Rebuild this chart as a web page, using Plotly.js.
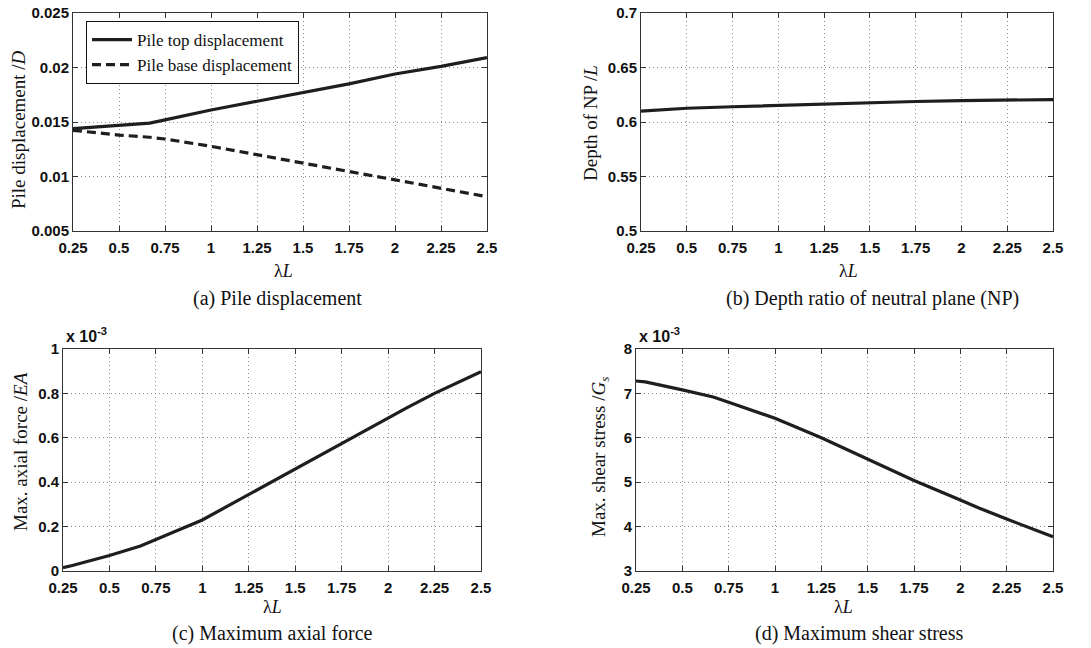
<!DOCTYPE html>
<html>
<head>
<meta charset="utf-8">
<script src="https://cdn.plot.ly/plotly-3.0.1.min.js"></script>
<style>html,body{margin:0;padding:0;background:#fff;}#chart{width:1091px;height:648px;}</style>
</head>
<body>
<div id="chart"></div>
<script>
// ---- data ----
const lambdaL_a = [0.25, 0.5, 0.667, 0.75, 1, 1.25, 1.5, 1.75, 2, 2.25, 2.5];
const pileTopDisp = [0.0144, 0.0147, 0.0149, 0.0152, 0.0161, 0.0169, 0.0177, 0.0185, 0.0194, 0.0201, 0.0209];
const pileBaseDisp = [0.01424, 0.0138, 0.0136, 0.01344, 0.01277, 0.0120, 0.01124, 0.01047, 0.00965, 0.00888, 0.00815];

const lambdaL_b = [0.25, 0.5, 0.75, 1, 1.25, 1.5, 1.75, 2, 2.25, 2.5];
const npDepth = [0.610, 0.6126, 0.614, 0.6153, 0.6166, 0.6178, 0.6188, 0.6196, 0.6202, 0.6206];

const lambdaL_c = [0.25, 0.3, 0.5, 0.667, 1, 1.25, 1.5, 1.75, 2, 2.1, 2.25, 2.5];
const axialForce_e3 = [0.015, 0.025, 0.07, 0.113, 0.23, 0.345, 0.459, 0.575, 0.69, 0.735, 0.80, 0.898];

const lambdaL_d = [0.25, 0.3, 0.5, 0.667, 0.75, 1, 1.25, 1.5, 1.75, 2, 2.1, 2.25, 2.5];
const shearStress_e3 = [7.28, 7.26, 7.08, 6.92, 6.80, 6.44, 6.0, 5.52, 5.04, 4.60, 4.42, 4.17, 3.77];

const xTicks = [0.25, 0.5, 0.75, 1, 1.25, 1.5, 1.75, 2, 2.25, 2.5];
const captions = ['(a) Pile displacement', '(b) Depth ratio of neutral plane (NP)', '(c) Maximum axial force', '(d) Maximum shear stress'];
const yTitles = ['Pile displacement /<i>D</i>', 'Depth of NP /<i>L</i>', 'Max. axial force /<i>EA</i>', 'Max. shear stress /<i>G<sub>s</sub></i>'];

// ---- styles ----
const W = 1091, H = 648;
const lineCol = '#1e1e1e';
const tickFont = {family: 'Liberation Sans, Arial, sans-serif', size: 15, color: '#111', weight: 'bold'};
const serif = 'Liberation Serif, Times New Roman, serif';

function px2x(p){return p / W;}
function px2y(p){return 1 - p / H;}

function xax(l, r, anchor){
  return {
    domain: [px2x(l), px2x(r)], anchor: anchor,
    range: [0.25, 2.5], tickvals: xTicks, ticktext: xTicks.map(String),
    showline: true, linecolor: '#333', linewidth: 1, mirror: 'ticks',
    ticks: 'inside', ticklen: 5, tickcolor: '#333', ticklabelstandoff: 3,
    showgrid: true, gridcolor: '#8a8a8a', griddash: '1px,3px', gridwidth: 1,
    zeroline: false, tickfont: tickFont, fixedrange: true
  };
}
function yax(t, b, anchor, range, dtick){
  return {
    domain: [px2y(b), px2y(t)], anchor: anchor,
    range: range, dtick: dtick, tick0: range[0],
    showline: true, linecolor: '#333', linewidth: 1, mirror: 'ticks',
    ticks: 'inside', ticklen: 5, tickcolor: '#333',
    showgrid: true, gridcolor: '#8a8a8a', griddash: '1px,3px', gridwidth: 1,
    zeroline: false, tickfont: tickFont, fixedrange: true
  };
}

const traces = [
  {x: lambdaL_a, y: pileTopDisp, xaxis: 'x', yaxis: 'y', mode: 'lines', name: 'Pile top displacement',
   line: {color: lineCol, width: 3.2}},
  {x: lambdaL_a, y: pileBaseDisp, xaxis: 'x', yaxis: 'y', mode: 'lines', name: 'Pile base displacement',
   line: {color: lineCol, width: 3.2, dash: '9px,5px'}},
  {x: lambdaL_b, y: npDepth, xaxis: 'x2', yaxis: 'y2', mode: 'lines', showlegend: false,
   line: {color: lineCol, width: 3.2}},
  {x: lambdaL_c, y: axialForce_e3, xaxis: 'x3', yaxis: 'y3', mode: 'lines', showlegend: false,
   line: {color: lineCol, width: 3.2}},
  {x: lambdaL_d, y: shearStress_e3, xaxis: 'x4', yaxis: 'y4', mode: 'lines', showlegend: false,
   line: {color: lineCol, width: 3.2}}
];

const ann = [];
function addText(text, xp, yp, size, opts){
  ann.push(Object.assign({text: text, xref: 'paper', yref: 'paper', x: px2x(xp), y: px2y(yp),
    showarrow: false, xanchor: 'center', yanchor: 'middle',
    font: {family: serif, size: size, color: '#111'}}, opts || {}));
}
// captions
addText(captions[0], 277, 298, 20);
addText(captions[1], 872, 298, 20);
addText(captions[2], 272, 633, 20);
addText(captions[3], 860, 633, 20);
// x titles
addText('λ<i>L</i>', 283, 271, 18);
addText('λ<i>L</i>', 848, 271, 18);
addText('λ<i>L</i>', 272, 607, 18);
addText('λ<i>L</i>', 843, 607, 18);
// y titles
addText(yTitles[0], 18, 130, 19, {textangle: -90});
addText(yTitles[1], 590, 123, 19, {textangle: -90});
addText(yTitles[2], 20, 452, 19, {textangle: -90});
addText(yTitles[3], 600, 457, 19, {textangle: -90});
// exponent labels
const expFont = {family: 'Liberation Sans, Arial, sans-serif', size: 16, color: '#111', weight: 'bold'};
ann.push({text: 'x 10<sup>-3</sup>', xref: 'paper', yref: 'paper', x: px2x(64), y: px2y(347),
  showarrow: false, xanchor: 'left', yanchor: 'bottom', font: expFont});
ann.push({text: 'x 10<sup>-3</sup>', xref: 'paper', yref: 'paper', x: px2x(637), y: px2y(347),
  showarrow: false, xanchor: 'left', yanchor: 'bottom', font: expFont});

const layout = {
  width: W, height: H,
  margin: {l: 0, r: 0, t: 0, b: 0},
  paper_bgcolor: '#fff', plot_bgcolor: '#fff',
  showlegend: true,
  legend: {x: px2x(86), y: px2y(21), xanchor: 'left', yanchor: 'top',
    bgcolor: '#fff', bordercolor: '#111', borderwidth: 1,
    font: {family: serif, size: 17, color: '#111'}, tracegroupgap: 0, itemwidth: 40},
  xaxis: xax(73, 487, 'y'),
  yaxis: yax(13, 231, 'x', [0.005, 0.025], 0.005),
  xaxis2: xax(641, 1053, 'y2'),
  yaxis2: yax(13, 231, 'x2', [0.5, 0.7], 0.05),
  xaxis3: xax(63, 481, 'y3'),
  yaxis3: yax(349, 571, 'x3', [0, 1], 0.2),
  xaxis4: xax(636, 1053, 'y4'),
  yaxis4: yax(349, 571, 'x4', [3, 8], 1),
  annotations: ann
};

Plotly.newPlot('chart', traces, layout, {displayModeBar: false, staticPlot: true});
</script>
</body>
</html>
